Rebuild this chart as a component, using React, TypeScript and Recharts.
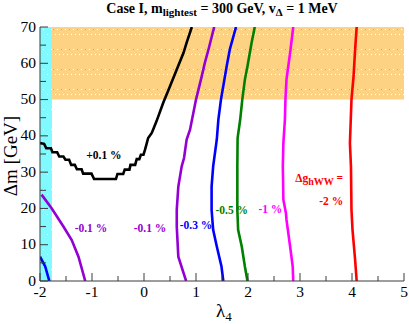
import { ComposedChart, Line, XAxis, YAxis, ReferenceArea, ReferenceDot } from 'recharts';

// lambda_4 (x) and Delta m in GeV (y)
const lambdaTicks = [-2, -1.5, -1, -0.5, 0, 0.5, 1, 1.5, 2, 2.5, 3, 3.5, 4, 4.5, 5];
const dmTicks = [0, 5, 10, 15, 20, 25, 30, 35, 40, 45, 50, 55, 60, 65, 70];

const plus01: [number, number][] = [
  [-2, 38.0], [-1.92, 37.8], [-1.88, 36.6], [-1.79, 36.6], [-1.76, 35.5], [-1.67, 35.5],
  [-1.63, 34.3], [-1.55, 34.3], [-1.51, 33.4], [-1.44, 33.4], [-1.4, 32.0], [-1.33, 32.0],
  [-1.29, 30.8], [-1.2, 30.8], [-1.17, 29.6], [-1.01, 29.6], [-0.96, 28.1], [-0.54, 28.1],
  [-0.51, 29.5], [-0.4, 29.5], [-0.37, 30.7], [-0.28, 30.7], [-0.26, 32.0], [-0.17, 32.0],
  [-0.14, 33.6], [-0.09, 33.6], [-0.06, 34.8], [-0.01, 34.8], [0.02, 36.2], [0.05, 37.8],
  [0.08, 39.4], [0.15, 40.8], [0.24, 44.0], [0.37, 49.1], [0.5, 53.7], [0.63, 58.3],
  [0.76, 62.9], [0.82, 65.7], [0.92, 70],
];
const minus01Left: [number, number][] = [
  [-1.97, 23.8], [-1.78, 20.1], [-1.55, 15.0], [-1.39, 11.3], [-1.26, 6.7], [-1.13, 0],
];
const minus03Corner: [number, number][] = [
  [-2, 6.7], [-1.9, 4.0], [-1.82, 0],
];
const minus01Right: [number, number][] = [
  [1.35, 70], [1.24, 63.8], [1.17, 60.1], [1.11, 56.4], [1.0, 50], [0.885, 41.7], [0.82, 39],
  [0.77, 33.9], [0.725, 31.6], [0.66, 26], [0.63, 19.6], [0.63, 15], [0.66, 6.7], [0.81, 0],
];
const minus03: [number, number][] = [
  [1.77, 70], [1.65, 63.8], [1.59, 59.2], [1.48, 50], [1.43, 44.5], [1.4, 39], [1.33, 31.6],
  [1.3, 26], [1.3, 19.6], [1.33, 14.1], [1.4, 9.5], [1.49, 4], [1.525, 0],
];
const minus05: [number, number][] = [
  [2.13, 70], [2.07, 65.7], [1.99, 59.2], [1.94, 55.5], [1.89, 50], [1.85, 44.5], [1.8, 39.4],
  [1.795, 31.6], [1.795, 19.6], [1.81, 14.1], [1.88, 9.5], [1.94, 4], [1.99, 0],
];
const minus1: [number, number][] = [
  [2.87, 70], [2.81, 62.9], [2.74, 55.5], [2.72, 50], [2.71, 44.5], [2.68, 38], [2.67, 31.6],
  [2.68, 22.4], [2.73, 18.7], [2.74, 16.9], [2.81, 9.5], [2.86, 4], [2.87, 0],
];
const minus2: [number, number][] = [
  [4.09, 70], [4.06, 63.8], [4.03, 56.4], [3.99, 50], [3.96, 38], [3.98, 31.6], [3.99, 19.6],
  [4.01, 14.1], [4.06, 5.8], [4.09, 0],
];

const curves = [
  { name: 'plus01', pts: plus01, color: '#000000' },
  { name: 'minus01Left', pts: minus01Left, color: '#9400D3' },
  { name: 'minus03Corner', pts: minus03Corner, color: '#0000FF' },
  { name: 'minus01Right', pts: minus01Right, color: '#9400D3' },
  { name: 'minus03', pts: minus03, color: '#0000FF' },
  { name: 'minus05', pts: minus05, color: '#008000' },
  { name: 'minus1', pts: minus1, color: '#FF00FF' },
  { name: 'minus2', pts: minus2, color: '#FF0000' },
];

// contour labels: [lambda, dm, text, color, anchor]
const labels: [number, number, string, string, string][] = [
  [-0.77, 33.7, '+0.1 %', '#000000', 'middle'],
  [-1.02, 13.5, '-0.1 %', '#9400D3', 'middle'],
  [0.115, 13.5, '-0.1 %', '#9400D3', 'middle'],
  [1.0, 14.4, '-0.3 %', '#0000FF', 'middle'],
  [1.687, 18.5, '-0.5 %', '#008000', 'middle'],
  [2.43, 18.8, '-1 %', '#FF00FF', 'middle'],
  [3.83, 21.0, '-2 %', '#FF0000', 'end'],
];
const hwwLabel: [number, number] = [3.83, 27.3];

// excluded regions
const cyanBand = { x1: -2, x2: -1.77, y1: 0, y2: 70 };
const orangeBand = { x1: -1.77, x2: 5, y1: 50, y2: 70 };

const serif = '"Liberation Serif", "Times New Roman", serif';
const frame = '#3a3a3a';

const BottomTick = (p: any) => {
  const major = Number.isInteger(p.payload.value);
  return (
    <g>
      <line x1={p.x} x2={p.x} y1={p.y} y2={p.y - (major ? 8 : 5)} stroke={frame} />
      {major && (
        <text x={p.x} y={p.y + 16} textAnchor="middle" fontFamily={serif} fontSize={15.5} fill="#000">
          {p.payload.value}
        </text>
      )}
    </g>
  );
};
const TopTick = (p: any) => {
  const major = Number.isInteger(p.payload.value);
  return <line x1={p.x} x2={p.x} y1={p.y} y2={p.y + (major ? 8 : 5)} stroke={frame} />;
};
const LeftTick = (p: any) => {
  const major = p.payload.value % 10 === 0;
  return (
    <g>
      <line x1={p.x} x2={p.x + (major ? 8 : 6)} y1={p.y} y2={p.y} stroke={frame} />
      {major && (
        <text x={p.x - 4} y={p.y + 4.5} textAnchor="end" fontFamily={serif} fontSize={15.5} fill="#000">
          {p.payload.value}
        </text>
      )}
    </g>
  );
};
const RightTick = (p: any) => {
  const major = p.payload.value % 10 === 0;
  return <line x1={p.x} x2={p.x - (major ? 8 : 6)} y1={p.y} y2={p.y} stroke={frame} />;
};

export default function App() {
  return (
    <div style={{ position: 'absolute', left: 0, top: 0, width: 409, height: 324, background: '#fff' }}>
      <ComposedChart width={409} height={324} margin={{ top: 27, right: 5, bottom: 0, left: 0 }}>
        <defs>
          <pattern id="orangeDots" width={8} height={20} patternUnits="userSpaceOnUse">
            <rect width={8} height={20} fill="#FED283" />
            <rect x={1} y={9} width={1} height={1} fill="#fff" />
            <rect x={5} y={9} width={1} height={1} fill="#FFA500" />
            <rect x={3} y={14} width={1} height={1} fill="#fff" />
            <rect x={7} y={14} width={1} height={1} fill="#fff" />
          </pattern>
          <pattern id="cyanDots" width={8} height={20} patternUnits="userSpaceOnUse">
            <rect width={8} height={20} fill="#80FAFF" />
            <rect x={3} y={9} width={1} height={1} fill="#fff" />
            <rect x={7} y={14} width={1} height={1} fill="#fff" />
          </pattern>
        </defs>
        <XAxis
          type="number"
          dataKey="x"
          domain={[-2, 5]}
          ticks={lambdaTicks}
          interval={0}
          height={43}
          tickSize={0}
          tickMargin={0}
          tickLine={false}
          tick={BottomTick}
          axisLine={{ stroke: frame }}
          allowDataOverflow
        />
        <XAxis
          xAxisId="top"
          orientation="top"
          type="number"
          domain={[-2, 5]}
          ticks={lambdaTicks}
          interval={0}
          height={0}
          tickSize={0}
          tickMargin={0}
          tickLine={false}
          tick={TopTick}
          axisLine={{ stroke: frame }}
          allowDataOverflow
        />
        <YAxis
          type="number"
          domain={[0, 70]}
          ticks={dmTicks}
          interval={0}
          width={40}
          tickSize={0}
          tickMargin={0}
          tickLine={false}
          tick={LeftTick}
          axisLine={{ stroke: frame }}
          allowDataOverflow
        />
        <YAxis
          yAxisId="right"
          orientation="right"
          type="number"
          domain={[0, 70]}
          ticks={dmTicks}
          interval={0}
          width={0}
          tickSize={0}
          tickMargin={0}
          tickLine={false}
          tick={RightTick}
          axisLine={{ stroke: frame }}
          allowDataOverflow
        />
        <ReferenceArea {...cyanBand} fill="url(#cyanDots)" fillOpacity={1} stroke="none" />
        <ReferenceArea {...orangeBand} fill="url(#orangeDots)" fillOpacity={1} stroke="none" />
        {curves.map((c) => (
          <Line
            key={c.name}
            data={c.pts.map(([x, y]) => ({ x, y }))}
            dataKey="y"
            type="linear"
            stroke={c.color}
            strokeWidth={2.6}
            dot={false}
            activeDot={false}
            isAnimationActive={false}
          />
        ))}
        {labels.map(([x, y, text, color, anchor], i) => (
          <ReferenceDot
            key={i}
            x={x}
            y={y}
            r={1}
            shape={(p: any) => (
              <text x={p.cx} y={p.cy} textAnchor={anchor} fontFamily={serif} fontWeight="bold" fontSize={11.5} fill={color}>
                {text}
              </text>
            )}
          />
        ))}
        <ReferenceDot
          x={hwwLabel[0]}
          y={hwwLabel[1]}
          r={1}
          shape={(p: any) => (
            <text x={p.cx} y={p.cy} textAnchor="end" fontFamily={serif} fontWeight="bold" fontSize={11.5} fill="#FF0000">
              Δg<tspan fontSize={10} dy={3}>hWW</tspan>
              <tspan dy={-3}> =</tspan>
            </text>
          )}
        />
      </ComposedChart>
      <svg width={409} height={324} style={{ position: 'absolute', left: 0, top: 0, pointerEvents: 'none' }}>
        <text fontFamily={serif} fontWeight="bold" fontSize={14} fill="#000" x={222} y={12.5} textAnchor="middle">
          Case I, m<tspan fontSize={11} dy={3.5}>lightest</tspan>
          <tspan dy={-3.5}> = 300 GeV, v</tspan>
          <tspan fontSize={11} dy={3.5}>Δ</tspan>
          <tspan dy={-3.5}> = 1 MeV</tspan>
        </text>
        <text fontFamily={serif} fontSize={19} fill="#000" textAnchor="middle" transform="translate(17,156) rotate(-90)">
          Δm [GeV]
        </text>
        <text fontFamily={serif} fontSize={19} fill="#000" x={216} y={317}>
          λ<tspan fontSize={13} dy={4}>4</tspan>
        </text>
      </svg>
    </div>
  );
}
